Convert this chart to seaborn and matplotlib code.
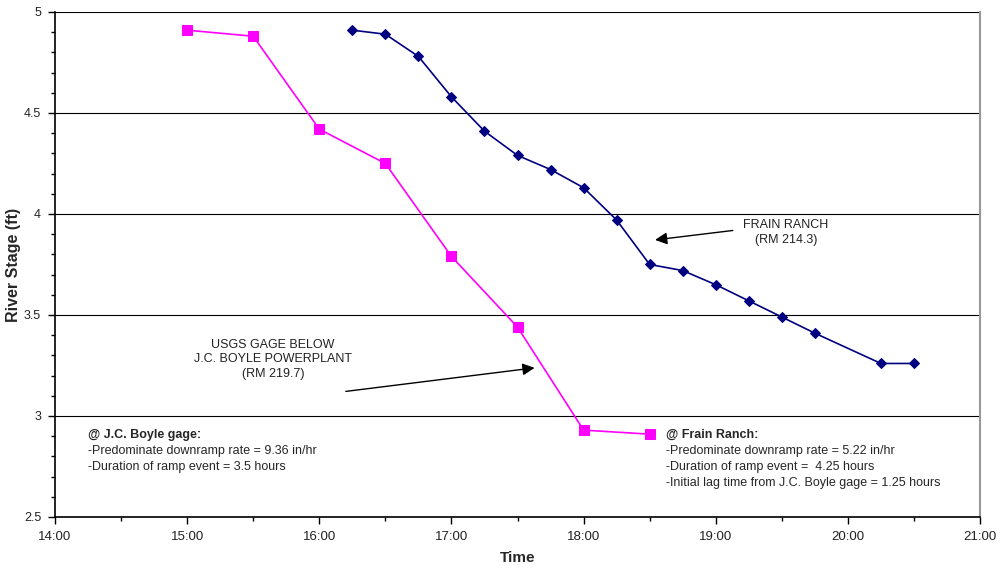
import matplotlib
matplotlib.use("Agg")
import matplotlib.pyplot as plt
import matplotlib.ticker as mticker
import seaborn as sns
import pandas as pd

# Data (time in decimal hours)
jc_time = [15.0, 15.5, 16.0, 16.5, 17.0, 17.5, 18.0, 18.5]
jc_stage = [4.91, 4.88, 4.42, 4.25, 3.79, 3.44, 2.93, 2.91]
fr_time = [16.25, 16.5, 16.75, 17.0, 17.25, 17.5, 17.75, 18.0, 18.25, 18.5,
           18.75, 19.0, 19.25, 19.5, 19.75, 20.25, 20.5]
fr_stage = [4.91, 4.89, 4.78, 4.58, 4.41, 4.29, 4.22, 4.13, 3.97, 3.75,
            3.72, 3.65, 3.57, 3.49, 3.41, 3.26, 3.26]
x_ticks = [14, 15, 16, 17, 18, 19, 20, 21]
y_ticks = [2.5, 3, 3.5, 4, 4.5, 5]

sns.set_theme(style="white")
plt.rcParams['font.family'] = ['Liberation Sans', 'DejaVu Sans']

fig = plt.figure(figsize=(9.98, 5.71), dpi=100)
ax = fig.add_axes([0.0551, 0.0946, 0.9269, 0.8844])

df_jc = pd.DataFrame({"t": jc_time, "s": jc_stage})
df_fr = pd.DataFrame({"t": fr_time, "s": fr_stage})

sns.lineplot(data=df_jc, x="t", y="s", ax=ax, color="#FF00FF", marker="s",
             markersize=7, markeredgecolor="#FF00FF", linewidth=1.2)
sns.lineplot(data=df_fr, x="t", y="s", ax=ax, color="#000080", marker="D",
             markersize=5.5, markeredgecolor="#000080", linewidth=1.2)

ax.set_xlim(14, 21)
ax.set_ylim(2.5, 5)
ax.set_xticks(x_ticks)
ax.set_xticklabels([f"{h}:00" for h in x_ticks])
ax.set_yticks(y_ticks)
ax.set_yticklabels([f"{v:g}" for v in y_ticks])
ax.xaxis.set_minor_locator(mticker.MultipleLocator(0.5))
ax.yaxis.set_minor_locator(mticker.MultipleLocator(0.1))
ax.tick_params(axis='both', which='both', bottom=True, left=True, top=False, right=False)
ax.tick_params(axis='both', which='major', length=5, width=1, color='black',
               labelcolor='#222222', direction='out')
ax.tick_params(axis='x', which='major', labelsize=9.5, pad=5)
ax.tick_params(axis='y', which='major', labelsize=9, pad=5)
ax.tick_params(axis='both', which='minor', length=3, width=1, color='black', direction='out')
ax.yaxis.grid(True, which='major', color='black', linewidth=0.8)
ax.xaxis.grid(False)

for s in ['left', 'bottom']:
    ax.spines[s].set_color('black')
    ax.spines[s].set_linewidth(1.2)
ax.spines['right'].set_color('#999999')
ax.spines['right'].set_linewidth(1.5)
ax.spines['top'].set_visible(False)

ax.set_xlabel("Time", fontsize=11, fontweight='bold', labelpad=6)
ax.set_ylabel("River Stage (ft)", fontsize=11.5, fontweight='bold', labelpad=2)

fs = 9
# Annotations
ax.annotate("", xy=(18.52, 3.87), xytext=(19.15, 3.92),
            arrowprops=dict(arrowstyle="-|>", color="black", lw=1, mutation_scale=18))
ax.text(19.53, 3.91, "FRAIN RANCH\n(RM 214.3)", ha='center', va='center',
        fontsize=fs, color='#222222', linespacing=1.3)

ax.annotate("", xy=(17.65, 3.24), xytext=(16.18, 3.12),
            arrowprops=dict(arrowstyle="-|>", color="black", lw=1, mutation_scale=18))
ax.text(15.65, 3.28, "USGS GAGE BELOW\nJ.C. BOYLE POWERPLANT\n(RM 219.7)", ha='center',
        va='center', fontsize=fs, color='#222222', linespacing=1.3)

ax.text(14.25, 2.905, "@ J.C. Boyle gage:", fontsize=fs, fontweight='bold', va='center')
ax.text(14.25, 2.826, "-Predominate downramp rate = 9.36 in/hr", fontsize=fs, va='center')
ax.text(14.25, 2.747, "-Duration of ramp event = 3.5 hours", fontsize=fs, va='center')

ax.text(18.62, 2.905, "@ Frain Ranch:", fontsize=fs, fontweight='bold', va='center')
ax.text(18.62, 2.826, "-Predominate downramp rate = 5.22 in/hr", fontsize=fs, va='center')
ax.text(18.62, 2.747, "-Duration of ramp event =  4.25 hours", fontsize=fs, va='center')
ax.text(18.62, 2.668, "-Initial lag time from J.C. Boyle gage = 1.25 hours", fontsize=fs, va='center')

fig.savefig("out.png", dpi=100)
